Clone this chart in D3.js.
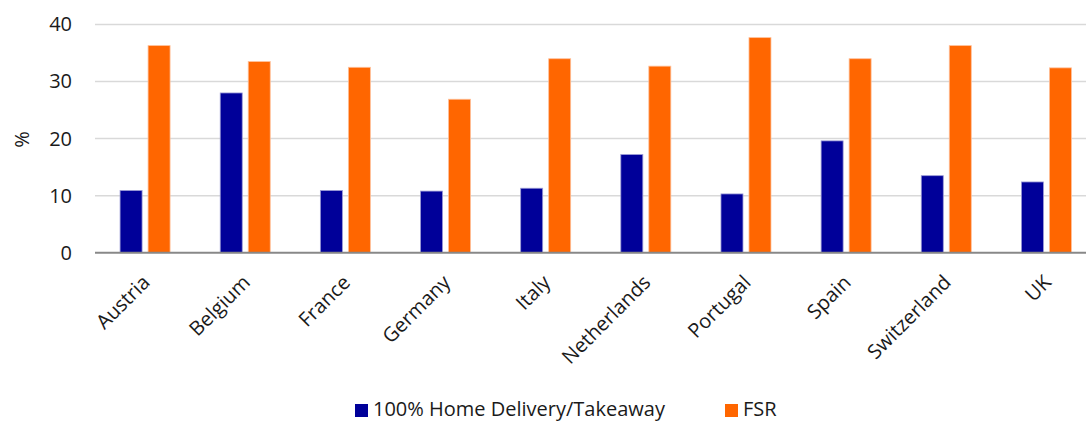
<!DOCTYPE html>
<html><head><meta charset="utf-8">
<script src="https://cdn.jsdelivr.net/npm/d3@7"></script>
<style>body{margin:0;background:#fff;overflow:hidden}svg{display:block;font-family:"Open Sans","Noto Sans",sans-serif}</style>
</head><body><svg id="c" width="1086" height="421"></svg>
<script>
const categories = ["Austria","Belgium","France","Germany","Italy","Netherlands","Portugal","Spain","Switzerland","UK"];
const seriesNames = ["100% Home Delivery/Takeaway","FSR"];
const homeDelivery = [10.9,28.0,10.9,10.8,11.3,17.2,10.3,19.6,13.5,12.4];
const fsr = [36.3,33.5,32.5,26.9,34.0,32.7,37.7,34.0,36.3,32.4];
const yTicks = [0,10,20,30,40];
const colors = ["#000099","#FF6600"];

const svg = d3.select("#c");
const mLeft = 95, mRight = 1096.5, mTop = 24.5, mBottom = 252.7;
const x = d3.scaleBand().domain(categories).range([mLeft,mRight]).paddingInner(0).paddingOuter(0);
const y = d3.scaleLinear().domain([0,40]).range([mBottom,mTop]);

// gridlines
svg.append("g").selectAll("line").data(yTicks.filter(d=>d>0)).join("line")
  .attr("x1",mLeft).attr("x2",1086).attr("y1",d=>y(d)).attr("y2",d=>y(d))
  .attr("stroke","#d9d9d9").attr("stroke-width",1.5);

const data = categories.map((c,i)=>({c, vals:[homeDelivery[i], fsr[i]]}));
const barW = 22, gap = 6;
const g = svg.append("g");
data.forEach(d=>{
  d.vals.forEach((v,k)=>{
    const cx = x(d.c) + x.bandwidth()/2;
    const x0 = k===0 ? cx - gap/2 - barW : cx + gap/2;
    g.append("rect").attr("x",x0).attr("y",y(v)).attr("width",barW).attr("height",y(0)-y(v))
      .attr("fill",colors[k]).attr("stroke", k===0?"#9a9ad6":"#ffc09a").attr("stroke-width",0.8);
  });
});

// x axis line
svg.append("line").attr("x1",mLeft).attr("x2",1086).attr("y1",y(0)).attr("y2",y(0))
  .attr("stroke","#888").attr("stroke-width",2);

const font = '"Open Sans","Noto Sans",sans-serif';
// y axis
const yAxis = d3.axisLeft(y).tickValues(yTicks).tickSize(0).tickPadding(0);
const ya = svg.append("g").attr("transform",`translate(72,0)`).call(yAxis);
ya.select(".domain").remove();
ya.selectAll("text").attr("font-size",20).attr("fill","#1a1a1a").attr("font-family",font);

// x labels
const xAxis = d3.axisBottom(x).tickSize(0).tickPadding(0);
const xa = svg.append("g").attr("transform",`translate(6,${mBottom+31})`).call(xAxis);
xa.select(".domain").remove();
xa.selectAll("text").attr("font-size",20).attr("fill","#1a1a1a").attr("font-family",font)
  .attr("text-anchor","end").attr("dy",0).attr("y",0).attr("transform","rotate(-45)");

// y title
svg.append("text").attr("transform","translate(29,139.5) rotate(-90)").attr("text-anchor","middle")
  .attr("font-size",20).attr("fill","#1a1a1a").text("%");

// legend
const legX = [355, 725];
seriesNames.forEach((n,k)=>{
  svg.append("rect").attr("x",legX[k]).attr("y",404).attr("width",13).attr("height",13).attr("fill",colors[k]);
  svg.append("text").attr("x",legX[k]+18).attr("y",416).attr("font-size",20).attr("fill","#1a1a1a").text(n);
});
</script></body></html>
